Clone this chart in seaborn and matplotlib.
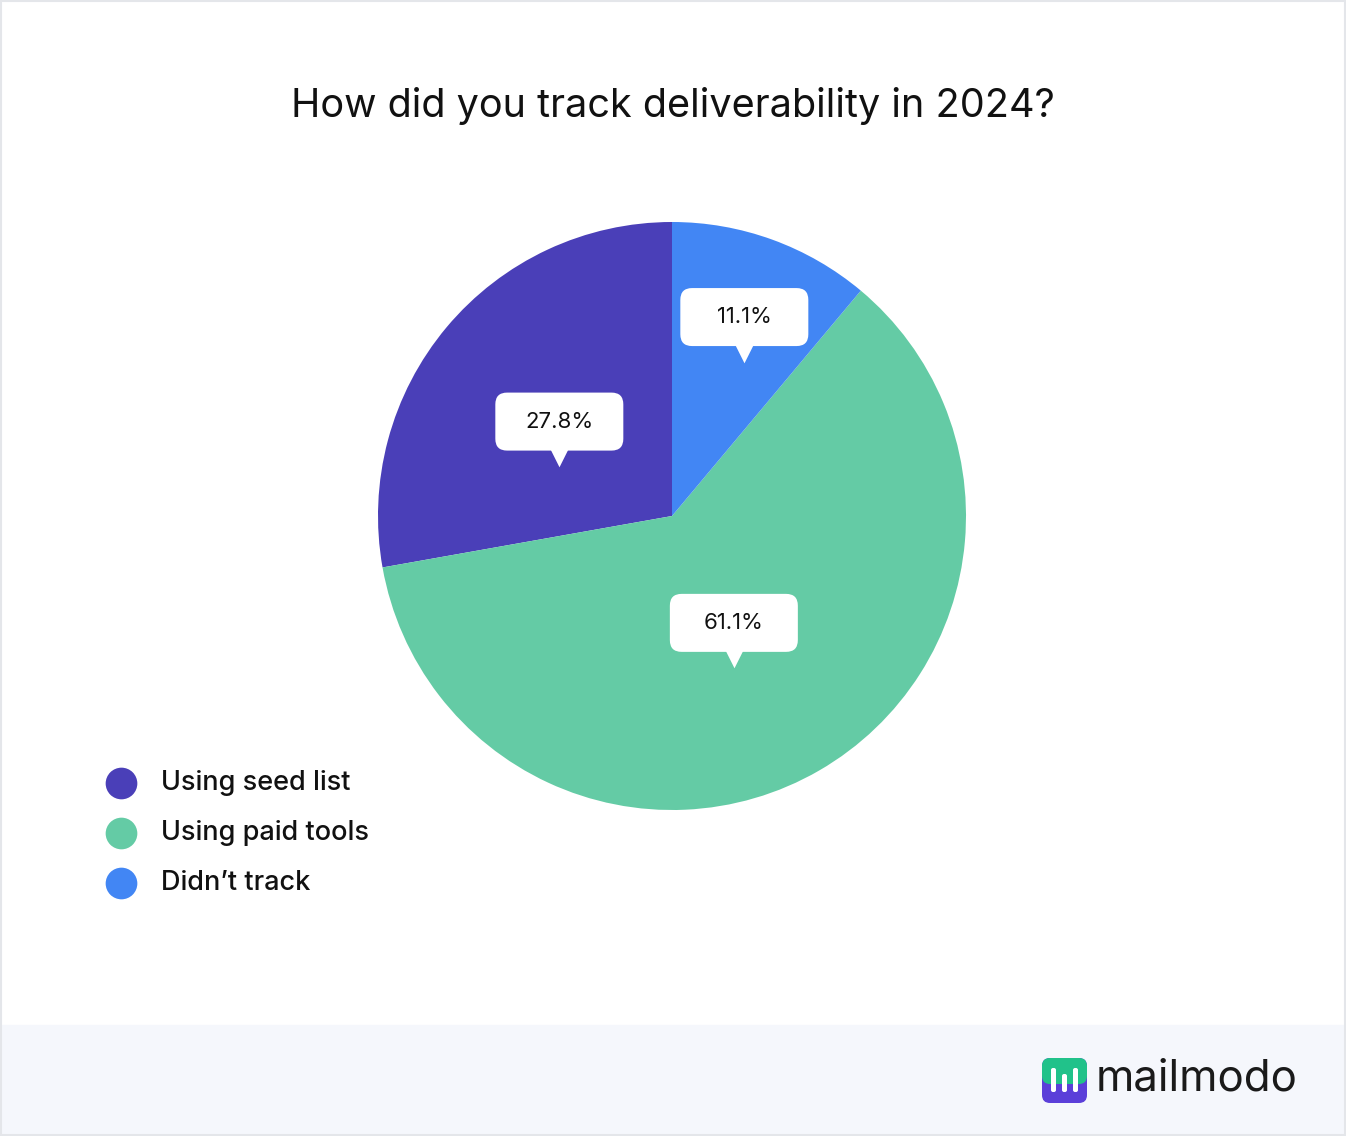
import numpy as np
import matplotlib
matplotlib.use("Agg")
import matplotlib.pyplot as plt
import seaborn as sns
from matplotlib.patches import FancyBboxPatch, Rectangle

# Data
categories = ["Using seed list", "Using paid tools", "Didn\u2019t track"]
shares = [27.8, 61.1, 11.1]
pct_labels = ["27.8%", "61.1%", "11.1%"]

COLORS = ["#4a3fb8", "#64cba5", "#4286f4"]
LABEL_R = [0.50, 0.42, 0.72]

sns.set_theme(style="white", font="Inter")
W, H = 1346, 1136
fig = plt.figure(figsize=(W / 100, H / 100), dpi=100)
fig.patch.set_facecolor("white")

# Background, footer band, border
bg = fig.add_axes([0, 0, 1, 1])
bg.set_xlim(0, W)
bg.set_ylim(H, 0)
bg.axis("off")
bg.add_patch(Rectangle((0, 1025), W, H - 1025, color="#f5f7fc", zorder=0))
bg.add_patch(Rectangle((1, 1), W - 2, H - 2, fill=False, ec="#e4e6ea", lw=1.5))

fig.text(0.5, 1 - 106 / H, "How did you track deliverability in 2024?",
         ha="center", va="center", fontsize=28.5, color="#111111")

# Pie
ax = fig.add_axes([(672 - 294) / W, 1 - (516 + 294) / H, 588 / W, 588 / H])
wedges, _ = ax.pie(shares, colors=COLORS, startangle=90, counterclock=True,
                   radius=1, wedgeprops=dict(linewidth=0))
ax.set_xlim(-1, 1)
ax.set_ylim(-1, 1)
ax.set_aspect("auto")
ax.axis("off")

for w, lab, r in zip(wedges, pct_labels, LABEL_R):
    mid = np.deg2rad((w.theta1 + w.theta2) / 2)
    x, y = r * np.cos(mid), r * np.sin(mid)
    bw, bh = 128 / 294, 58 / 294
    ax.add_patch(FancyBboxPatch((x - bw / 2, y - bh / 2), bw, bh,
                                boxstyle="round,pad=0,rounding_size=0.04",
                                fc="white", ec="none", zorder=3))
    ax.scatter([x], [y - bh / 2 - 0.012], marker="v", s=340, color="white",
               zorder=3, linewidths=0)
    ax.text(x, y, lab, ha="center", va="center", fontsize=16, color="#111111", zorder=4)

# Legend
for i, (name, c) in enumerate(zip(categories, COLORS)):
    yy = 783 + i * 50
    bg.scatter([121], [yy], s=520, color=c, linewidths=0)
    bg.text(161, yy, name, ha="left", va="center", fontsize=19.5,
            fontweight="medium", color="#111111")

# Logo
bg.add_patch(FancyBboxPatch((1042, 1058), 45, 45, boxstyle="round,pad=0,rounding_size=8",
                            fc="#5b3fd9", ec="none"))
bg.add_patch(FancyBboxPatch((1042, 1058), 45, 26, boxstyle="round,pad=0,rounding_size=8",
                            fc="#21c28a", ec="none"))
for bx, top in [(1051, 1068), (1062, 1074), (1073, 1068)]:
    bg.add_patch(FancyBboxPatch((bx, top), 5, 1092 - top, boxstyle="round,pad=0,rounding_size=2",
                                fc="white", ec="none"))
bg.text(1096, 1079, "mailmodo", ha="left", va="center", fontsize=31.5, color="#1a1a1a")

fig.savefig("out.png", dpi=100)
